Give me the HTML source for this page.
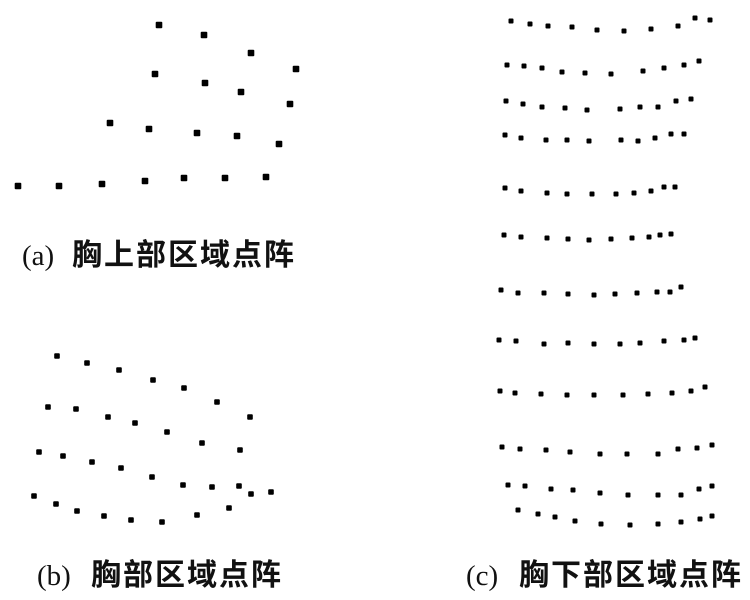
<!DOCTYPE html>
<html><head><meta charset="utf-8"><style>
html,body{margin:0;padding:0;background:#fff;}
svg{display:block;}
.l{font-family:"Liberation Serif",serif;font-size:29px;fill:#111;}
.c{font-family:"Liberation Sans","Noto Sans CJK SC",sans-serif;font-size:30px;font-weight:bold;fill:#111;letter-spacing:2px;}
</style></head><body>
<svg width="750" height="600" viewBox="0 0 750 600" xmlns="http://www.w3.org/2000/svg" xmlns:xlink="http://www.w3.org/1999/xlink">
<defs>
<rect id="a" x="-3.3" y="-3.3" width="6.6" height="6.6" rx="1"/>
<rect id="b" x="-2.8" y="-2.8" width="5.6" height="5.6" rx="1"/>
<rect id="c" x="-2.5" y="-2.5" width="5" height="5" rx="1"/>
</defs>
<g fill="#000">
<use href="#a" x="159" y="25"/><use href="#a" x="204" y="35"/><use href="#a" x="251" y="53"/><use href="#a" x="296" y="69"/>
<use href="#a" x="155" y="74"/><use href="#a" x="205" y="83"/><use href="#a" x="241" y="92"/><use href="#a" x="290" y="104"/>
<use href="#a" x="110" y="123"/><use href="#a" x="149" y="129"/><use href="#a" x="197" y="133"/><use href="#a" x="237" y="136"/><use href="#a" x="279" y="144"/>
<use href="#a" x="18" y="186"/><use href="#a" x="59" y="186"/><use href="#a" x="102" y="184"/><use href="#a" x="145" y="181"/><use href="#a" x="184" y="178"/><use href="#a" x="225" y="178"/><use href="#a" x="266" y="177"/>

<use href="#b" x="57" y="356"/><use href="#b" x="87" y="363"/><use href="#b" x="119" y="370"/><use href="#b" x="153" y="380"/><use href="#b" x="184" y="388"/><use href="#b" x="217" y="402"/><use href="#b" x="250" y="417"/>
<use href="#b" x="48" y="407"/><use href="#b" x="76" y="409"/><use href="#b" x="108" y="417"/><use href="#b" x="135" y="423"/><use href="#b" x="167" y="432"/><use href="#b" x="202" y="443"/><use href="#b" x="240" y="450"/>
<use href="#b" x="39" y="452"/><use href="#b" x="63" y="456"/><use href="#b" x="92" y="462"/><use href="#b" x="121" y="468"/><use href="#b" x="152" y="477"/><use href="#b" x="183" y="485"/><use href="#b" x="212" y="487"/><use href="#b" x="239" y="486"/><use href="#b" x="251" y="494"/><use href="#b" x="271" y="492"/>
<use href="#b" x="34" y="496"/><use href="#b" x="56" y="504"/><use href="#b" x="77" y="511"/><use href="#b" x="104" y="516"/><use href="#b" x="131" y="520"/><use href="#b" x="162" y="522"/><use href="#b" x="197" y="515"/><use href="#b" x="229" y="508"/>

<use href="#c" x="511" y="21"/><use href="#c" x="530" y="24"/><use href="#c" x="548" y="26"/><use href="#c" x="572" y="27"/><use href="#c" x="597" y="30"/><use href="#c" x="624" y="31"/><use href="#c" x="651" y="29"/><use href="#c" x="678" y="26"/><use href="#c" x="695" y="18"/><use href="#c" x="710" y="20"/>
<use href="#c" x="507" y="65"/><use href="#c" x="524" y="66"/><use href="#c" x="542" y="68"/><use href="#c" x="562" y="72"/><use href="#c" x="585" y="73"/><use href="#c" x="611" y="74"/><use href="#c" x="643" y="71"/><use href="#c" x="664" y="68"/><use href="#c" x="684" y="65"/><use href="#c" x="699" y="61"/>
<use href="#c" x="506" y="101"/><use href="#c" x="523" y="104"/><use href="#c" x="542" y="107"/><use href="#c" x="565" y="108"/><use href="#c" x="587" y="110"/><use href="#c" x="620" y="109"/><use href="#c" x="640" y="107"/><use href="#c" x="658" y="107"/><use href="#c" x="676" y="101"/><use href="#c" x="691" y="99"/>
<use href="#c" x="505" y="135"/><use href="#c" x="521" y="138"/><use href="#c" x="546" y="140"/><use href="#c" x="567" y="140"/><use href="#c" x="589" y="141"/><use href="#c" x="621" y="140"/><use href="#c" x="638" y="141"/><use href="#c" x="655" y="138"/><use href="#c" x="671" y="134"/><use href="#c" x="684" y="134"/>
<use href="#c" x="505" y="188"/><use href="#c" x="521" y="191"/><use href="#c" x="547" y="193"/><use href="#c" x="567" y="194"/><use href="#c" x="592" y="194"/><use href="#c" x="616" y="194"/><use href="#c" x="634" y="193"/><use href="#c" x="651" y="191"/><use href="#c" x="664" y="187"/><use href="#c" x="675" y="187"/>
<use href="#c" x="504" y="235"/><use href="#c" x="521" y="237"/><use href="#c" x="547" y="238"/><use href="#c" x="568" y="239"/><use href="#c" x="589" y="240"/><use href="#c" x="611" y="239"/><use href="#c" x="632" y="238"/><use href="#c" x="649" y="237"/><use href="#c" x="660" y="235"/><use href="#c" x="671" y="234"/>
<use href="#c" x="501" y="290"/><use href="#c" x="518" y="293"/><use href="#c" x="544" y="293"/><use href="#c" x="568" y="294"/><use href="#c" x="594" y="295"/><use href="#c" x="615" y="294"/><use href="#c" x="637" y="293"/><use href="#c" x="657" y="292"/><use href="#c" x="670" y="292"/><use href="#c" x="681" y="287"/>
<use href="#c" x="499" y="340"/><use href="#c" x="516" y="341"/><use href="#c" x="544" y="344"/><use href="#c" x="568" y="343"/><use href="#c" x="594" y="344"/><use href="#c" x="620" y="344"/><use href="#c" x="640" y="343"/><use href="#c" x="664" y="341"/><use href="#c" x="684" y="340"/><use href="#c" x="695" y="338"/>
<use href="#c" x="500" y="391"/><use href="#c" x="515" y="393"/><use href="#c" x="541" y="394"/><use href="#c" x="567" y="395"/><use href="#c" x="594" y="395"/><use href="#c" x="623" y="395"/><use href="#c" x="648" y="394"/><use href="#c" x="672" y="393"/><use href="#c" x="691" y="391"/><use href="#c" x="705" y="387"/>
<use href="#c" x="502" y="447"/><use href="#c" x="520" y="449"/><use href="#c" x="546" y="450"/><use href="#c" x="570" y="452"/><use href="#c" x="600" y="454"/><use href="#c" x="627" y="454"/><use href="#c" x="658" y="454"/><use href="#c" x="678" y="449"/><use href="#c" x="697" y="448"/><use href="#c" x="712" y="445"/>
<use href="#c" x="508" y="485"/><use href="#c" x="525" y="486"/><use href="#c" x="551" y="489"/><use href="#c" x="573" y="490"/><use href="#c" x="600" y="493"/><use href="#c" x="628" y="495"/><use href="#c" x="658" y="495"/><use href="#c" x="681" y="495"/><use href="#c" x="699" y="489"/><use href="#c" x="712" y="486"/>
<use href="#c" x="518" y="510"/><use href="#c" x="538" y="514"/><use href="#c" x="555" y="517"/><use href="#c" x="575" y="521"/><use href="#c" x="601" y="524"/><use href="#c" x="630" y="525"/><use href="#c" x="658" y="524"/><use href="#c" x="681" y="522"/><use href="#c" x="700" y="519"/><use href="#c" x="712" y="516"/>
</g>
<text class="l" x="22" y="265">(a)</text>
<text class="c" x="72" y="265">胸上部区域点阵</text>
<text class="l" x="37" y="585">(b)</text>
<text class="c" x="91" y="585">胸部区域点阵</text>
<text class="l" x="466" y="585">(c)</text>
<text class="c" x="519" y="585">胸下部区域点阵</text>
</svg>
</body></html>
